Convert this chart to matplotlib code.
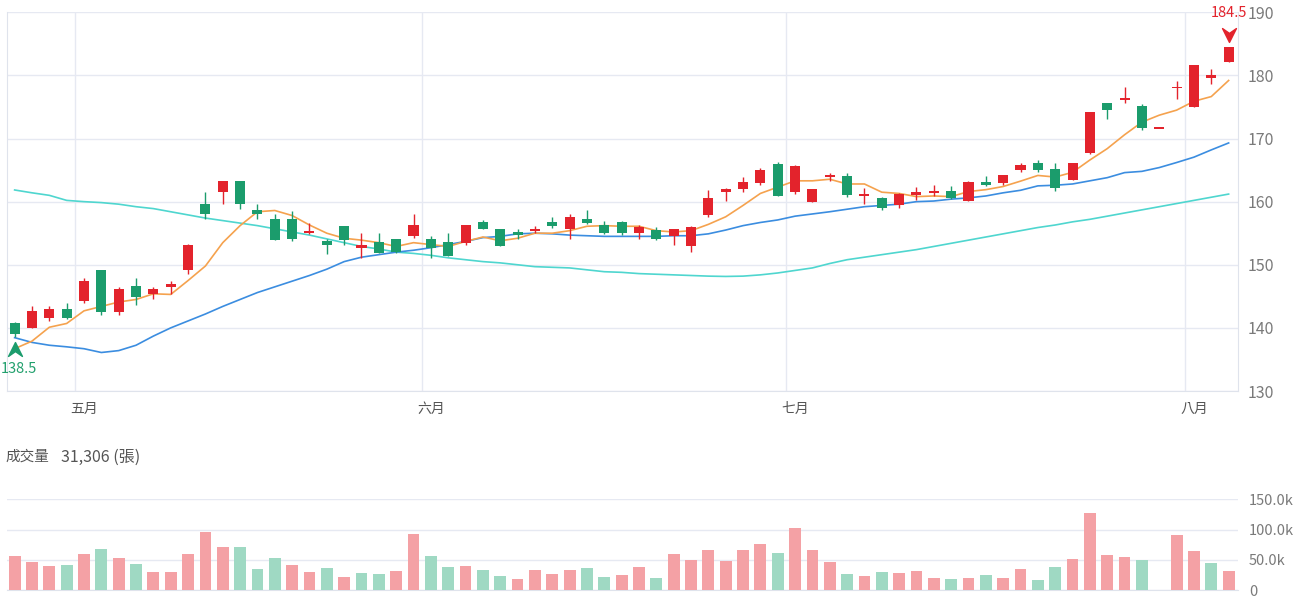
import numpy as np
import matplotlib
matplotlib.use('Agg')
import matplotlib.pyplot as plt
from matplotlib.path import Path
from matplotlib.ticker import FuncFormatter
from matplotlib.transforms import offset_copy

plt.rcParams['font.family'] = ['Noto Sans CJK TC', 'DejaVu Sans']

# trading days per month (Apr 25 - Aug 5)
month_labels = ['四月', '五月', '六月', '七月', '八月']
month_days = [4, 20, 21, 23, 3]

opens = [140.7, 140.0, 141.5, 143.0, 144.3, 149.1, 142.5, 146.6, 145.4, 146.5,
         149.2, 159.7, 161.6, 163.2, 158.7, 157.2, 157.2, 155.1, 153.8, 156.15,
         152.6, 153.6, 154.1, 154.5, 154.1, 153.6, 153.5, 156.8, 155.7, 155.2,
         155.45, 156.7, 155.6, 157.2, 156.3, 156.7, 155.0, 155.5, 154.5, 152.9,
         157.9, 161.5, 161.95, 163.0, 165.95, 161.5, 160.0, 163.9, 164.1, 160.95,
         160.5, 159.5, 161.05, 161.4, 161.7, 160.1, 163.15, 163.0, 165.0, 166.15,
         165.1, 163.5, 167.7, 175.6, 176.2, 175.1, 171.7, 178.0, 175.0, 179.6,
         182.05]
highs = [141.0, 143.5, 143.5, 144.0, 147.9, 149.2, 146.4, 147.9, 146.4, 147.4,
         153.3, 161.6, 163.2, 163.2, 159.6, 158.0, 158.5, 156.6, 154.05, 156.2,
         155.1, 155.1, 154.1, 158.1, 154.5, 155.1, 156.3, 157.1, 155.7, 155.6,
         156.15, 157.6, 158.1, 158.6, 157.0, 157.0, 156.3, 155.95, 155.6, 156.1,
         161.9, 162.1, 163.9, 165.4, 166.3, 165.8, 162.0, 164.5, 164.5, 162.1,
         160.8, 161.4, 162.4, 162.6, 162.5, 163.2, 164.05, 164.2, 166.05, 166.6,
         166.15, 166.2, 174.2, 175.7, 178.15, 175.4, 171.7, 179.05, 181.6, 181.05,
         184.5]
lows = [138.5, 140.0, 141.1, 141.4, 144.0, 142.1, 142.1, 143.6, 144.5, 145.4,
        148.6, 157.2, 159.7, 158.8, 157.2, 153.9, 153.7, 154.8, 151.7, 153.2,
        151.1, 151.9, 151.8, 154.3, 151.1, 151.4, 153.2, 155.6, 153.0, 154.1,
        155.1, 155.8, 154.1, 156.5, 154.8, 154.65, 154.05, 154.0, 153.2, 152.1,
        157.6, 160.1, 161.6, 162.6, 160.9, 161.2, 160.0, 163.2, 160.7, 159.6,
        158.7, 159.05, 160.3, 160.9, 160.4, 160.1, 162.5, 162.7, 164.7, 164.7,
        161.7, 163.5, 167.5, 173.1, 175.7, 171.3, 171.7, 176.2, 175.0, 178.6,
        182.05]
closes = [139.0, 142.6, 143.0, 141.5, 147.5, 142.5, 146.1, 144.9, 146.1, 147.0,
          153.2, 158.0, 163.2, 159.6, 158.1, 154.0, 154.1, 155.3, 153.2, 154.0,
          153.1, 151.9, 152.0, 156.3, 152.6, 151.4, 156.3, 155.6, 153.0, 154.65,
          155.6, 156.15, 157.6, 156.6, 155.0, 155.1, 156.05, 154.05, 155.6, 156.05,
          160.5, 162.0, 163.05, 165.0, 160.95, 165.6, 162.0, 164.2, 161.05, 161.2,
          158.95, 161.15, 161.6, 161.7, 160.5, 163.15, 162.6, 164.2, 165.8, 165.0,
          162.1, 166.15, 174.15, 174.5, 176.3, 171.7, 171.7, 178.15, 181.6, 180.1,
          184.5]

ma5 = [136.7, 137.9, 140.1, 140.7, 142.7, 143.4, 144.1, 144.5, 145.4, 145.3,
       147.5, 149.8, 153.5, 156.2, 158.4, 158.6, 157.8, 156.3, 155.0, 154.2,
       153.9, 153.5, 152.9, 153.5, 153.2, 152.9, 153.7, 154.4, 153.8, 154.2,
       155.0, 155.0, 155.4, 156.1, 156.2, 156.1, 156.1, 155.4, 155.2, 155.4,
       156.4, 157.6, 159.4, 161.3, 162.3, 163.3, 163.3, 163.55, 162.8, 162.8,
       161.5, 161.3, 160.8, 160.9, 160.8, 161.6, 161.9, 162.4, 163.25, 164.15,
       163.9, 164.65, 166.6, 168.4, 170.6, 172.6, 173.7, 174.5, 175.9, 176.65,
       179.2]
ma20 = [138.45, 137.7, 137.25, 137.0, 136.7, 136.1, 136.4, 137.25, 138.7, 140.0,
        141.1, 142.2, 143.4, 144.5, 145.6, 146.5, 147.4, 148.3, 149.3, 150.5,
        151.2, 151.6, 152.0, 152.3, 152.7, 153.2, 153.7, 154.3, 154.5, 154.9,
        155.0, 154.9, 154.7, 154.6, 154.5, 154.5, 154.5, 154.5, 154.6, 154.6,
        154.9, 155.5, 156.2, 156.7, 157.1, 157.7, 158.05, 158.4, 158.8, 159.2,
        159.4, 159.6, 160.0, 160.1, 160.4, 160.6, 160.9, 161.4, 161.8, 162.5,
        162.6, 162.8, 163.3, 163.8, 164.6, 164.8, 165.4, 166.2, 167.05, 168.2,
        169.3]
ma60 = [161.85, 161.4, 161.0, 160.2, 160.0, 159.85, 159.6, 159.2, 158.9, 158.4,
        157.9, 157.4, 157.0, 156.6, 156.2, 155.7, 155.2, 154.7, 154.1, 153.5,
        152.9, 152.5, 152.0, 151.8, 151.5, 151.1, 150.8, 150.5, 150.3, 150.0,
        149.7, 149.6, 149.5, 149.2, 148.9, 148.8, 148.6, 148.5, 148.4, 148.3,
        148.2, 148.15, 148.2, 148.4, 148.7, 149.1, 149.5, 150.2, 150.8, 151.2,
        151.6, 152.0, 152.4, 152.9, 153.4, 153.9, 154.4, 154.9, 155.4, 155.9,
        156.3, 156.8, 157.2, 157.7, 158.2, 158.7, 159.2, 159.7, 160.2, 160.7,
        161.2]

# 成交量 (張)
volume = [57000, 47000, 40000, 42000, 60000, 67000, 53000, 43000, 30000, 30000,
          60000, 96000, 71000, 71000, 34000, 53000, 41000, 29000, 36000, 21500,
          28600, 26400, 31300, 92000, 55500, 37400, 39000, 33500, 23000, 17600,
          32400, 26400, 33000, 36300, 21000, 24200, 37400, 19200, 60000, 49000,
          66500, 48400, 65400, 75800, 61500, 102800, 65900, 46200, 26900, 23100,
          30200, 28600, 31300, 20500, 17600, 19800, 24200, 19800, 34600, 16500,
          38500, 50600, 128000, 57100, 55000, 49500, 0, 90700, 64800, 44000,
          31306]
vol_up = [1, 1, 1, 0, 1, 0, 1, 0, 1, 1,
          1, 1, 1, 0, 0, 0, 1, 1, 0, 1,
          0, 0, 1, 1, 0, 0, 1, 0, 0, 1,
          1, 1, 1, 0, 0, 1, 1, 0, 1, 1,
          1, 1, 1, 1, 0, 1, 1, 1, 0, 1,
          0, 1, 1, 1, 0, 1, 0, 1, 1, 0,
          0, 1, 1, 1, 1, 0, 1, 1, 1, 0,
          1]

RED = '#e3232c'
GREEN = '#1b9c6c'
VRED = '#f4a1a5'
VGREEN = '#9fd9c3'
GRID = '#e6e9f2'

fig = plt.figure(figsize=(13, 6), dpi=100)
W, H = 1300, 600
ax = fig.add_axes([7 / W, 1 - 391 / H, 1231 / W, 378.7 / H])
vax = fig.add_axes([7 / W, 1 - 590 / H, 1231 / W, 90.7 / H])

x = np.arange(len(closes))
o, h, l, c = (np.array(v) for v in (opens, highs, lows, closes))
up = c >= o
col = np.where(up, RED, GREEN)

# moving averages
ax.plot(x, ma60, color='#4fd6cf', lw=1.2, zorder=2)
ax.plot(x, ma20, color='#3b8de0', lw=1.2, zorder=2)
ax.plot(x, ma5, color='#f5a24e', lw=1.2, zorder=2)

# candles
ax.vlines(x, l, h, colors=col, lw=1.0, zorder=3)
diff = np.abs(c - o)
body = np.maximum(diff, 0.28)
bottom = np.where(diff < 0.28, (o + c) / 2 - 0.14, np.minimum(o, c))
ax.bar(x, body, bottom=bottom, width=0.58, color=col, linewidth=0, zorder=4)

# month separators / labels
starts = np.cumsum([0] + month_days[:-1])
for s in starts[1:]:
    ax.axvline(s - 0.5, color=GRID, lw=1, zorder=0)
ax.set_xticks(starts[1:])
ax.set_xticklabels(month_labels[1:])

ax.set_xlim(-0.44, 70.54)
ax.set_ylim(130, 190)
ax.set_yticks(np.arange(130, 191, 10))
ax.yaxis.tick_right()
ax.grid(axis='y', color=GRID, lw=1, zorder=0)
ax.set_axisbelow(True)
ax.tick_params(axis='y', length=0, pad=7, labelsize=11.5, labelcolor='#7a7a7a')
ax.tick_params(axis='x', length=0, pad=8, labelsize=10, labelcolor='#555555')
for side in ['left', 'right', 'bottom']:
    ax.spines[side].set_color('#dfe3ec')
ax.spines['top'].set_visible(False)

# high / low markers
arrow = Path([(0, 1), (1, -1), (0, -0.3), (-1, -1), (0, 1)],
             [Path.MOVETO, Path.LINETO, Path.LINETO, Path.LINETO, Path.CLOSEPOLY])
arrow_dn = Path(arrow.vertices * [1, -1], arrow.codes)
hi_i = int(np.argmax(h))
lo_i = int(np.argmin(l))
ax.plot(hi_i, h[hi_i], marker=arrow_dn, ms=10, color=RED, clip_on=False, zorder=6,
        transform=offset_copy(ax.transData, fig=fig, x=0, y=8.6, units='points'))
ax.annotate(f'{h[hi_i]:.1f}', (hi_i, h[hi_i]), xytext=(0, 24.8), textcoords='offset points',
            ha='center', va='center', color=RED, fontsize=10.5, annotation_clip=False)
ax.plot(lo_i, l[lo_i], marker=arrow, ms=10, color=GREEN, clip_on=False, zorder=6,
        transform=offset_copy(ax.transData, fig=fig, x=0, y=-8.4, units='points'))
ax.annotate(f'{l[lo_i]:.1f}', (lo_i, l[lo_i]), xytext=(-10, -23), textcoords='offset points',
            ha='left', va='center', color='#22a06d', fontsize=10.5, annotation_clip=False)

# volume
vax.bar(x, volume, width=0.68, color=np.where(np.array(vol_up) == 1, VRED, VGREEN),
        linewidth=0, zorder=3)
vax.set_xlim(-0.44, 70.54)
vax.set_ylim(0, 150000)
vax.set_yticks([0, 50000, 100000, 150000])
vax.yaxis.set_major_formatter(FuncFormatter(lambda v, p: '0' if v == 0 else f'{v / 1000:.1f}k'))
vax.yaxis.tick_right()
vax.grid(axis='y', color=GRID, lw=1, zorder=0)
vax.set_axisbelow(True)
vax.set_xticks([])
vax.tick_params(axis='y', length=0, pad=8, labelsize=10.5, labelcolor='#7a7a7a')
for side in ['left', 'right', 'top']:
    vax.spines[side].set_visible(False)
vax.spines['bottom'].set_color('#dfe3ec')

fig.text(5 / W, 1 - 457 / H, '成交量', ha='left', va='center', fontsize=10.5, color='#555555')
fig.text(61 / W, 1 - 457 / H, f'{volume[-1]:,} (張)', ha='left', va='center',
         fontsize=11.5, color='#555555')

fig.savefig('out.png', dpi=100)
